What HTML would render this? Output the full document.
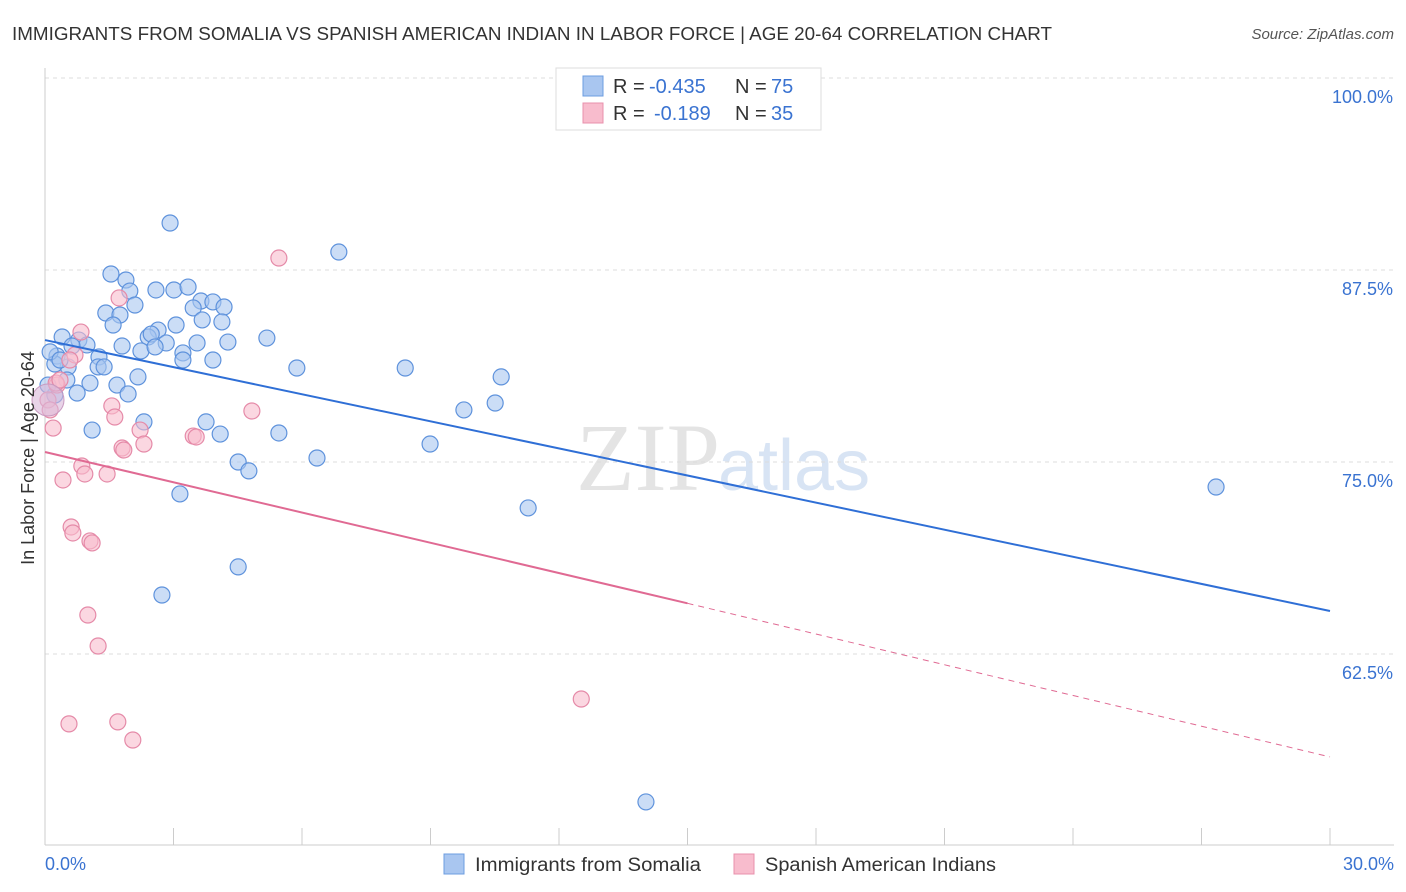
<!DOCTYPE html>
<html><head><meta charset="utf-8"><style>
body{margin:0;background:#fff;font-family:"Liberation Sans",sans-serif}
svg{display:block}
</style></head><body>
<svg id="chart" width="1406" height="892" xmlns="http://www.w3.org/2000/svg">
<text x="12" y="40" font-size="18" fill="#333" textLength="1040" lengthAdjust="spacingAndGlyphs">IMMIGRANTS FROM SOMALIA VS SPANISH AMERICAN INDIAN IN LABOR FORCE | AGE 20-64 CORRELATION CHART</text>
<text x="1394" y="39" font-size="15" fill="#555" font-style="italic" text-anchor="end">Source: ZipAtlas.com</text>
<text x="720" y="490" font-size="96" fill="#e4e4e4" text-anchor="end" font-family="Liberation Serif">ZIP</text>
<text x="718" y="490" font-size="72" fill="#d8e4f4">atlas</text>
<g id="grid"></g>
<g id="axes"></g>
<g id="pts"></g>
<g id="lines"></g>
<text transform="translate(34,458) rotate(-90)" font-size="18" fill="#333" text-anchor="middle">In Labor Force | Age 20-64</text>
<text x="45" y="870" font-size="18" fill="#3a73d1">0.0%</text>
<text x="1394" y="870" font-size="18" fill="#3a73d1" text-anchor="end">30.0%</text>
<g>
<rect x="556" y="68" width="265" height="62" fill="#fff" stroke="#ddd"/>
<rect x="583" y="76" width="20" height="20" fill="#a9c6f0" stroke="#6c9de0"/>
<rect x="583" y="103" width="20" height="20" fill="#f8bccd" stroke="#e890ac"/>
<text y="93" font-size="20" fill="#333"><tspan x="613">R =</tspan><tspan x="649" fill="#3a73d1">-0.435</tspan><tspan x="735">N =</tspan><tspan x="771" fill="#3a73d1">75</tspan></text>
<text y="120" font-size="20" fill="#333"><tspan x="613">R =</tspan><tspan x="654" fill="#3a73d1">-0.189</tspan><tspan x="735">N =</tspan><tspan x="771" fill="#3a73d1">35</tspan></text>
</g>
<g>
<rect x="444" y="854" width="20" height="20" fill="#a9c6f0" stroke="#6c9de0"/>
<text x="475" y="871" font-size="19" fill="#333" textLength="226" lengthAdjust="spacingAndGlyphs">Immigrants from Somalia</text>
<rect x="734" y="854" width="20" height="20" fill="#f8bccd" stroke="#e890ac"/>
<text x="765" y="871" font-size="19" fill="#333" textLength="231" lengthAdjust="spacingAndGlyphs">Spanish American Indians</text>
</g>
</svg>
<script>
const yTicks=[100,87.5,75,62.5];
const yTickLabels=["100.0%","87.5%","75.0%","62.5%"];
const xTicks=[0,3,6,9,12,15,18,21,24,27,30];
const blueX=[2.92,6.86,1.54,1.89,1.98,2.59,3.01,3.34,2.10,3.64,3.92,4.18,3.46,1.42,1.75,1.59,3.67,4.13,3.06,2.64,2.41,2.48,0.40,0.79,5.18,3.55,4.27,2.83,1.80,0.98,0.63,1.26,3.22,2.24,2.57,0.28,3.92,3.22,0.54,0.23,1.24,1.38,5.88,8.41,10.65,0.51,2.17,1.05,1.68,1.94,0.75,0.23,9.78,10.51,2.31,3.76,1.10,4.09,5.46,8.99,6.35,4.51,4.76,3.15,11.28,27.34,4.51,2.73,14.03,0.07,0.12,0.35];
const blueY=[90.56,88.67,87.24,86.85,86.13,86.2,86.2,86.39,85.22,85.48,85.42,85.09,85.03,84.7,84.57,83.92,84.25,84.12,83.92,83.59,83.14,83.33,83.14,82.94,83.07,82.75,82.81,82.75,82.55,82.62,82.55,81.84,82.1,82.23,82.49,81.9,81.64,81.64,81.19,81.38,81.19,81.19,81.12,81.12,80.54,80.34,80.54,80.14,80.01,79.43,79.49,79.36,78.39,78.84,77.61,77.61,77.08,76.82,76.89,76.17,75.26,75.0,74.42,72.92,72.01,73.37,68.17,66.34,52.87,80.01,82.17,81.64];
const pinkX=[5.46,1.73,0.84,0.70,0.28,0.07,0.12,1.56,4.83,1.63,0.19,2.22,3.46,3.53,2.31,1.80,1.84,0.86,0.42,0.93,1.45,0.61,0.65,1.05,1.10,1.00,1.24,12.52,0.56,1.70,2.05,0.26,0.58,0.35];
const pinkY=[88.28,85.68,83.46,81.97,80.01,79.04,78.39,78.65,78.32,77.93,77.21,77.08,76.69,76.63,76.17,75.91,75.78,74.74,73.83,74.22,74.22,70.77,70.38,69.86,69.73,65.04,63.02,59.57,57.95,58.08,56.9,80.14,81.64,80.34];
const blueLine=[0,82.94,30,65.3];
const pinkLine=[0,75.65,15,65.8,30,55.8];
const NS="http://www.w3.org/2000/svg";
const X=v=>45+v/30*1285, Y=v=>78+(100-v)*15.36;
function mk(t,a,p){const e=document.createElementNS(NS,t);for(const k in a)e.setAttribute(k,a[k]);p.appendChild(e);return e;}
const grid=document.getElementById('grid'),axes=document.getElementById('axes'),pts=document.getElementById('pts'),lines=document.getElementById('lines');
yTicks.forEach((t,i)=>{
 const l=mk('line',{x1:45,x2:1394,y1:Y(t),y2:Y(t),stroke:'#ddd','stroke-dasharray':'4,4'},grid);
 
 
 const tx=mk('text',{x:1393,y:Y(t)+25,'font-size':18,fill:'#3a73d1','text-anchor':'end'},grid);
 tx.textContent=yTickLabels[i];
 
 
});
const ya=mk('line',{x1:45,x2:45,y1:68,y2:845,stroke:'#ccc'},axes);


const xa=mk('line',{x1:45,x2:1394,y1:845,y2:845,stroke:'#ccc'},axes);


xTicks.forEach(t=>{
 const l=mk('line',{x1:X(t),x2:X(t),y1:828,y2:845,stroke:'#ccc'},axes);
 
 
});
function dots(xs,ys,fill,stroke,name){
 xs.forEach((x,i)=>{
  const c=mk('circle',{cx:X(x),cy:Y(ys[i]),r:8,fill:fill,'fill-opacity':0.6,stroke:stroke,'stroke-width':1.2},pts);
  
  
 });
}
dots(blueX,blueY,'#a9c6f0','#5e92dc','point-somalia');
dots(pinkX,pinkY,'#f8bccd','#e58aa8','point-spanish');
const big=mk('circle',{cx:X(0.07),cy:Y(79.04),r:16,fill:'#d8b8d8','fill-opacity':0.6,stroke:'#c89ac0'},pts);


const bl=mk('line',{x1:X(blueLine[0]),y1:Y(blueLine[1]),x2:X(blueLine[2]),y2:Y(blueLine[3]),stroke:'#2f6fd6','stroke-width':2},lines);


const pl=mk('line',{x1:X(pinkLine[0]),y1:Y(pinkLine[1]),x2:X(pinkLine[2]),y2:Y(pinkLine[3]),stroke:'#e06a93','stroke-width':2},lines);


const pd=mk('line',{x1:X(pinkLine[2]),y1:Y(pinkLine[3]),x2:X(pinkLine[4]),y2:Y(pinkLine[5]),stroke:'#e06a93','stroke-width':1,'stroke-dasharray':'6,5'},lines);


</script>
</body></html>
